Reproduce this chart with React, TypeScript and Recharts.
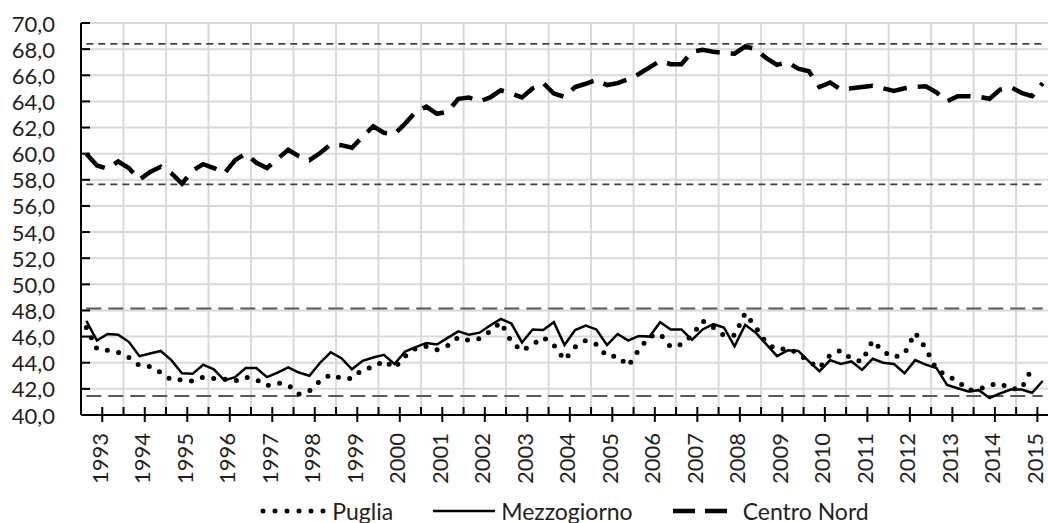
import { CartesianGrid, Legend, Line, LineChart, ReferenceLine, XAxis, YAxis } from "recharts";

// quarterly series, 1992 Q3 .. 2015 Q1 (91 quarters)
const years = [
  1993, 1994, 1995, 1996, 1997, 1998, 1999, 2000, 2001, 2002, 2003, 2004, 2005, 2006, 2007, 2008,
  2009, 2010, 2011, 2012, 2013, 2014, 2015,
];

const puglia: (number | null)[] = [
  46.7, 45.05, 44.95, 44.8, 44.4, 43.8, 43.7, 43.25, 42.7, 42.7, 42.6, 42.9, 42.8, 42.75, 42.6, 42.9,
  42.7, 42.25, 42.45, 42.3, 41.6, 41.85, 42.6, 43.1, 42.8, 42.8, 43.5, 43.65, 44.15, 43.6, 44.5, 45.1,
  45.25, 45.0, 45.3, 45.95, 45.7, 45.85, 46.4, 47.1, 45.6, 44.9, 45.4, 45.95, 45.35, 44.2, 45.2, 45.7,
  45.4, 44.5, 44.5, 43.75, 45.0, 46.0, 46.2, 45.2, 45.4, 46.1, 47.2, 46.7, 46.1, 46.1, 47.8, 46.7,
  45.5, 45.0, 45.1, 44.7, 44.1, 43.6, 44.6, 44.95, 44.3, 44.1, 45.7, 44.85, 44.4, 44.7, 46.3, 45.1,
  43.5, 43.0, 42.6, 41.9, 41.95, 42.3, 42.4, 42.0, 42.0, 43.6, null,
];

const mezzogiorno = [
  47.2, 45.7, 46.2, 46.15, 45.6, 44.5, 44.7, 44.9, 44.2, 43.2, 43.15, 43.85, 43.5, 42.65, 42.9, 43.6,
  43.6, 42.9, 43.25, 43.65, 43.25, 43.0, 44.0, 44.8, 44.35, 43.5, 44.15, 44.4, 44.6, 43.9, 44.85, 45.2,
  45.5, 45.4, 45.9, 46.4, 46.15, 46.3, 46.85, 47.35, 47.0, 45.55, 46.55, 46.5, 47.1, 45.35, 46.5, 46.85,
  46.55, 45.35, 46.2, 45.7, 46.05, 46.0, 47.1, 46.55, 46.55, 45.75, 46.55, 46.95, 46.7, 45.25, 46.9, 46.3,
  45.4, 44.5, 44.95, 44.9, 44.1, 43.35, 44.2, 43.9, 44.1, 43.45, 44.3, 44.0, 43.9, 43.2, 44.2, 43.85,
  43.6, 42.3, 42.05, 41.8, 41.9, 41.3, 41.65, 41.95, 41.95, 41.7, 42.6,
];

const centroNord = [
  60.0, 59.1, 58.85, 59.4, 58.9, 58.0, 58.6, 59.0, 58.5, 57.7, 58.7, 59.2, 58.9, 58.5, 59.5, 60.0,
  59.3, 58.9, 59.6, 60.3, 59.8, 59.5, 60.05, 60.7, 60.65, 60.45, 61.3, 62.1, 61.6, 61.5, 62.3, 63.2,
  63.6, 63.05, 63.2, 64.2, 64.3, 64.0, 64.3, 64.85, 64.6, 64.3, 65.0, 65.4, 64.6, 64.35, 65.1, 65.35,
  65.65, 65.25, 65.4, 65.7, 66.1, 66.6, 67.1, 66.85, 66.85, 67.8, 67.95, 67.8, 67.7, 67.65, 68.2, 68.0,
  67.3, 66.8, 67.0, 66.5, 66.3, 65.1, 65.45, 64.9, 65.0, 65.1, 65.2, 65.0, 64.8, 65.0, 65.1, 65.15,
  64.7, 64.0, 64.4, 64.4, 64.35, 64.2, 64.9, 65.1, 64.65, 64.4, 65.4,
];

// max / min bands drawn as dashed horizontals
const centroNordBand = [68.4, 57.65];
const mezzogiornoBand = [48.15, 41.45];

const yTicks = [40, 42, 44, 46, 48, 50, 52, 54, 56, 58, 60, 62, 64, 66, 68, 70];

const FONT = "Lato, 'Open Sans', sans-serif";
const TEXT = "#1f1f1f";
const Y_MARGIN = 26;
const X_MARGIN = 18;

const data = mezzogiorno.map((m, i) => ({
  q: i,
  puglia: puglia[i],
  mezzogiorno: m,
  centroNord: centroNord[i],
}));

const last = data.length - 1;
// a year starts every 4 quarters, first one at the 3rd quarter boundary
const yearPos = years.map((_, k) => 1.5 + 4 * k);
const tickPos = yearPos.flatMap((p, k) => (k < years.length - 1 ? [p, p + 2] : [p]));
const gridPos = yearPos.slice(0, -1).map((p) => p + 2);

function YTick({ x, y, payload }: any) {
  const axisX = x + Y_MARGIN;
  return (
    <g>
      <line x1={axisX} x2={axisX + 9} y1={y} y2={y} stroke="#000" strokeWidth={2} />
      <text x={x} y={y} textAnchor="end" dominantBaseline="central" fontFamily={FONT} fontSize={22} fill={TEXT}>
        {payload.value.toFixed(1).replace(".", ",")}
      </text>
    </g>
  );
}

function XTick({ x, y, payload }: any) {
  const axisY = y - X_MARGIN;
  const k = yearPos.indexOf(payload.value);
  return (
    <g>
      <line x1={x} x2={x} y1={axisY - 8} y2={k >= 0 ? axisY + 7 : axisY} stroke="#000" strokeWidth={2} />
      {k >= 0 && (
        <text
          transform={`translate(${x + 5.5},${y}) rotate(-90)`}
          textAnchor="end"
          fontFamily={FONT}
          fontSize={22}
          fill={TEXT}
        >
          {years[k]}
        </text>
      )}
    </g>
  );
}

function LegendBox() {
  const item = { display: "flex", alignItems: "center", gap: 6 };
  return (
    <div
      style={{
        width: 1048,
        height: 33,
        boxSizing: "border-box",
        paddingLeft: 81,
        paddingTop: 8,
        display: "flex",
        justifyContent: "center",
        alignItems: "center",
        gap: 40,
        fontFamily: FONT,
        fontSize: 23,
        color: TEXT,
      }}
    >
      <span style={item}>
        <svg width={66} height={10}>
          <line x1={3} x2={64} y1={5} y2={5} stroke="#000" strokeWidth={5} strokeDasharray="0 12" strokeLinecap="round" />
        </svg>
        Puglia
      </span>
      <span style={item}>
        <svg width={62} height={10}>
          <line x1={0} x2={62} y1={5} y2={5} stroke="#000" strokeWidth={2.5} />
        </svg>
        Mezzogiorno
      </span>
      <span style={item}>
        <svg width={64} height={10}>
          <line x1={0} x2={64} y1={5} y2={5} stroke="#000" strokeWidth={4.5} strokeDasharray="22 10" />
        </svg>
        Centro Nord
      </span>
    </div>
  );
}

export default function App() {
  return (
    <div style={{ width: 1048, height: 523, background: "#fff" }}>
      <style>{"body{margin:0}"}</style>
      <LineChart width={1048} height={523} data={data} margin={{ top: 23, right: 0, bottom: 0, left: 0 }}>
        <CartesianGrid stroke="#d9d9d9" strokeWidth={2} verticalValues={gridPos} />
        <XAxis
          dataKey="q"
          type="number"
          domain={[-0.5, last + 0.5]}
          ticks={tickPos}
          interval={0}
          height={75}
          tickSize={0}
          tickMargin={X_MARGIN}
          tick={<XTick />}
          axisLine={{ stroke: "#000", strokeWidth: 2 }}
          tickLine={false}
        />
        <YAxis
          type="number"
          domain={[40, 70]}
          ticks={yTicks}
          interval={0}
          width={81}
          tickSize={0}
          tickMargin={Y_MARGIN}
          tick={<YTick />}
          axisLine={{ stroke: "#000", strokeWidth: 2 }}
          tickLine={false}
        />
        {centroNordBand.map((v) => (
          <ReferenceLine
            key={v}
            segment={[{ x: 0, y: v }, { x: last, y: v }]}
            stroke="#404040"
            strokeWidth={1.8}
            strokeDasharray="7 5"
          />
        ))}
        {mezzogiornoBand.map((v) => (
          <ReferenceLine
            key={v}
            segment={[{ x: 0, y: v }, { x: last, y: v }]}
            stroke="#595959"
            strokeWidth={2}
            strokeDasharray="15 7"
          />
        ))}
        <Line
          dataKey="centroNord"
          type="linear"
          stroke="#000"
          strokeWidth={4.5}
          strokeDasharray="24 11"
          dot={false}
          isAnimationActive={false}
        />
        <Line dataKey="mezzogiorno" type="linear" stroke="#000" strokeWidth={2.5} dot={false} isAnimationActive={false} />
        <Line
          dataKey="puglia"
          type="linear"
          stroke="#000"
          strokeWidth={5}
          strokeDasharray="0 11.5"
          strokeLinecap="round"
          dot={false}
          isAnimationActive={false}
        />
        <Legend verticalAlign="bottom" height={33} content={<LegendBox />} wrapperStyle={{ left: 0, width: 1048 }} />
      </LineChart>
    </div>
  );
}
